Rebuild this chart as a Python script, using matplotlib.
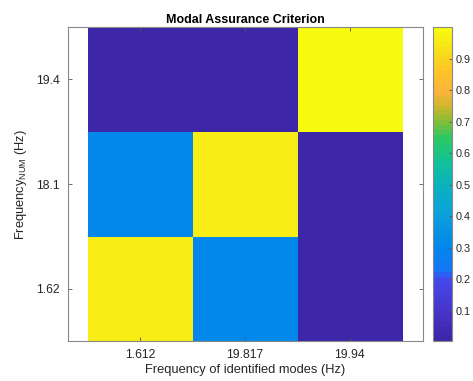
import numpy as np
import matplotlib
matplotlib.use("Agg")
import matplotlib.pyplot as plt
from matplotlib.colors import LinearSegmentedColormap

plt.rcParams['font.family'] = ['Liberation Sans', 'DejaVu Sans']
plt.rcParams['mathtext.fontset'] = 'custom'
plt.rcParams['mathtext.rm'] = 'Liberation Sans'

# data
x_labels = ['1.612', '19.817', '19.94']   # identified modes (Hz)
y_labels = ['1.62', '18.1', '19.4']       # numerical modes (Hz), bottom to top
mac = np.array([
    [0.960, 0.305, 0.004],
    [0.305, 0.965, 0.010],
    [0.006, 0.010, 0.995],
])

# approx. parula colormap
parula_pts = [
    (0.00, (62, 38, 168)), (0.10, (70, 55, 205)), (0.19, (68, 72, 235)),
    (0.22, (20, 118, 245)), (0.30, (2, 135, 235)), (0.40, (12, 160, 220)),
    (0.50, (10, 180, 190)), (0.58, (20, 195, 145)), (0.65, (45, 200, 100)),
    (0.70, (130, 190, 55)), (0.75, (205, 182, 45)), (0.80, (252, 180, 60)),
    (0.86, (254, 195, 40)), (0.92, (248, 218, 28)), (1.00, (248, 250, 15)),
]
parula = LinearSegmentedColormap.from_list(
    'parula', [(p, tuple(c / 255 for c in rgb)) for p, rgb in parula_pts], N=64)

fig = plt.figure(figsize=(4.73, 3.81), dpi=100)
ax = fig.add_axes([0.1438, 0.105, 0.7505, 0.824])
cax = fig.add_axes([0.9154, 0.105, 0.040, 0.824])

im = ax.imshow(mac, cmap=parula, origin='lower', aspect='auto',
               vmin=0.004, vmax=1.0, interpolation='nearest',
               extent=[0.5, 3.5, 0.5, 3.5])
ax.set_xlim(0.31, 3.70)
ax.set_ylim(0.5, 3.5)

txt = '#262626'
ax.set_xticks([1, 2, 3])
ax.set_xticklabels(x_labels)
ax.set_yticks([1, 2, 3])
ax.set_yticklabels(y_labels)
ax.tick_params(direction='in', top=True, right=True, length=3, width=0.6,
               colors='#555555', labelcolor=txt, labelsize=8.8, pad=6)
for s in ax.spines.values():
    s.set_color('#888888')
    s.set_linewidth(0.8)

ax.set_title('Modal Assurance Criterion', fontsize=9, fontweight='bold',
             color='black', pad=3)
ax.set_xlabel('Frequency of identified modes (Hz)', fontsize=9.3, color=txt, labelpad=2)
ax.set_ylabel(r'Frequency$_{\rm NUM}$ (Hz)', fontsize=9.3, color=txt, labelpad=5)

cb = fig.colorbar(im, cax=cax)
cb.set_ticks(np.arange(0.1, 1.0, 0.1))
cb.set_ticklabels(['0.1', '0.2', '0.3', '0.4', '0.5', '0.6', '0.7', '0.8', '0.9'])
cax.tick_params(direction='in', length=2, width=0.6, colors='#555555',
                labelcolor=txt, labelsize=7.8, pad=3)
cb.outline.set_edgecolor('#888888')
cb.outline.set_linewidth(0.8)

fig.savefig('out.png', dpi=100)
